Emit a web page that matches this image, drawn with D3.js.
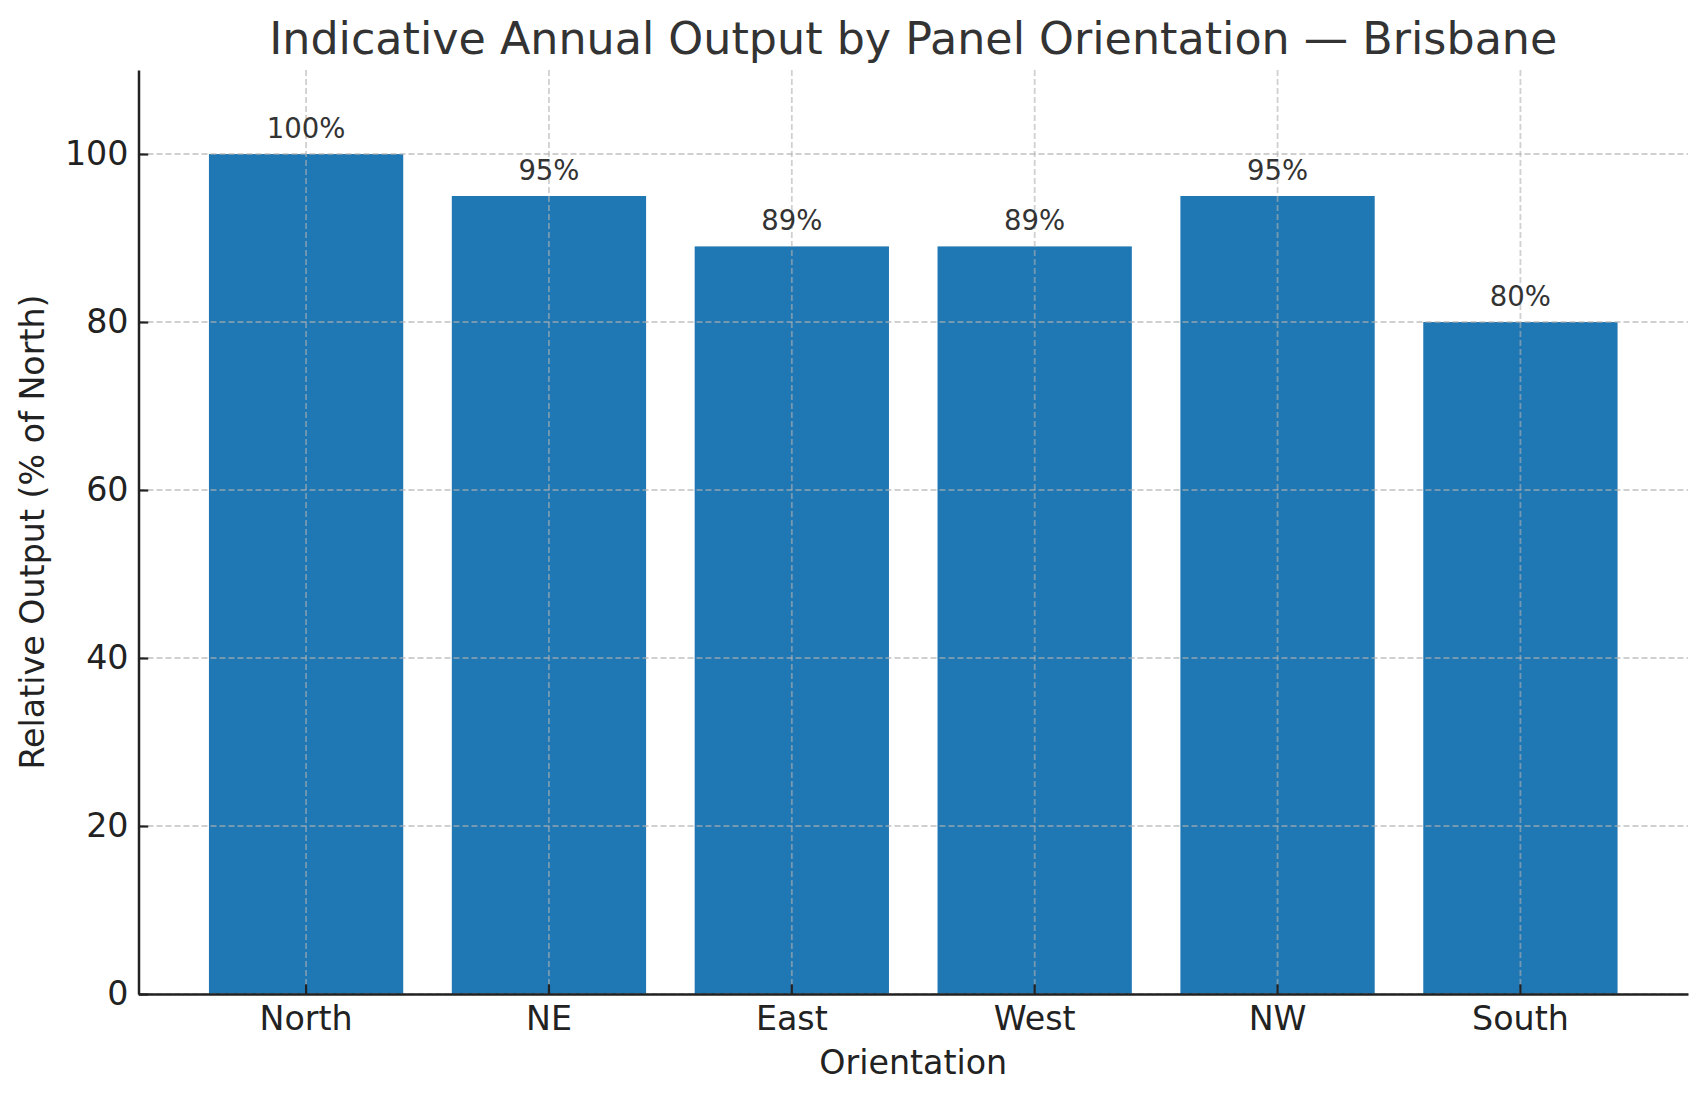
<!DOCTYPE html>
<html>
<head>
<meta charset="utf-8">
<script src="https://cdn.jsdelivr.net/npm/d3@7"></script>
<style>
  html, body { margin: 0; padding: 0; background: #fff; }
  svg { display: block; font-family: "DejaVu Sans", sans-serif; }
</style>
</head>
<body>
<svg id="chart" width="1707" height="1101"></svg>
<script>
const categories = ["North", "NE", "East", "West", "NW", "South"];
const values = [100, 95, 89, 89, 95, 80];
const yTicks = [0, 20, 40, 60, 80, 100];
const titleText = "Indicative Annual Output by Panel Orientation — Brisbane";
const xLabelText = "Orientation";
const yLabelText = "Relative Output (% of North)";

const W = 1707, H = 1101;
const m = { left: 138.5, right: 1688, top: 70, bottom: 994 };
const svg = d3.select("#chart");

const x = d3.scaleBand()
  .domain(categories)
  .range([m.left, m.right])
  .paddingInner(0.2)
  .paddingOuter(0.29);

const y = d3.scaleLinear().domain([0, 110]).range([m.bottom, m.top]);

const barColor = "#1f77b4";

// bars
svg.append("g").selectAll("rect")
  .data(values)
  .join("rect")
  .attr("x", (d, i) => x(categories[i]))
  .attr("width", x.bandwidth())
  .attr("y", d => y(d))
  .attr("height", d => y(0) - y(d))
  .attr("fill", barColor);

// grid (drawn above bars)
const grid = svg.append("g")
  .attr("stroke", "#b0b0b0")
  .attr("stroke-opacity", 0.6)
  .attr("stroke-width", 1.8)
  .attr("stroke-dasharray", "6,3");
grid.selectAll("line.h")
  .data(yTicks)
  .join("line")
  .attr("class", "h")
  .attr("x1", m.left).attr("x2", m.right)
  .attr("y1", d => y(d)).attr("y2", d => y(d));
grid.selectAll("line.v")
  .data(categories)
  .join("line")
  .attr("class", "v")
  .attr("x1", d => x(d) + x.bandwidth() / 2)
  .attr("x2", d => x(d) + x.bandwidth() / 2)
  .attr("y1", m.top).attr("y2", m.bottom);

// value labels
svg.append("g").selectAll("text")
  .data(values)
  .join("text")
  .attr("x", (d, i) => x(categories[i]) + x.bandwidth() / 2)
  .attr("y", d => y(d) - 16)
  .attr("text-anchor", "middle")
  .attr("font-size", 27.5)
  .attr("fill", "#333")
  .text(d => d + "%");

// axes
const xAxis = d3.axisBottom(x).tickSizeInner(-9.7).tickSizeOuter(0).tickPadding(12);
const gx = svg.append("g").attr("transform", `translate(0,${m.bottom})`).call(xAxis);
gx.select(".domain").attr("stroke", "#222").attr("stroke-width", 2.5);
gx.selectAll(".tick line").attr("stroke", "#222").attr("stroke-width", 2.2);
gx.selectAll(".tick text").attr("font-size", 33.3).attr("fill", "#222")
  .attr("font-family", "DejaVu Sans").attr("dy", "0.71em");

const yAxis = d3.axisLeft(y).tickValues(yTicks).tickSizeInner(-9.7).tickSizeOuter(0).tickPadding(10);
const gy = svg.append("g").attr("transform", `translate(${m.left},0)`).call(yAxis);
gy.select(".domain").attr("stroke", "#222").attr("stroke-width", 2.5);
gy.selectAll(".tick line").attr("stroke", "#222").attr("stroke-width", 2.2);
gy.selectAll(".tick text").attr("font-size", 33.3).attr("fill", "#222")
  .attr("font-family", "DejaVu Sans");

// title and axis labels
svg.append("text")
  .attr("x", (m.left + m.right) / 2).attr("y", 54)
  .attr("text-anchor", "middle")
  .attr("font-size", 44.4)
  .attr("fill", "#333")
  .text(titleText);

svg.append("text")
  .attr("x", (m.left + m.right) / 2).attr("y", 1074)
  .attr("text-anchor", "middle")
  .attr("font-size", 33.3)
  .attr("fill", "#222")
  .text(xLabelText);

svg.append("text")
  .attr("transform", `translate(44,${(m.top + m.bottom) / 2}) rotate(-90)`)
  .attr("text-anchor", "middle")
  .attr("font-size", 33.3)
  .attr("fill", "#222")
  .text(yLabelText);
</script>
</body>
</html>
